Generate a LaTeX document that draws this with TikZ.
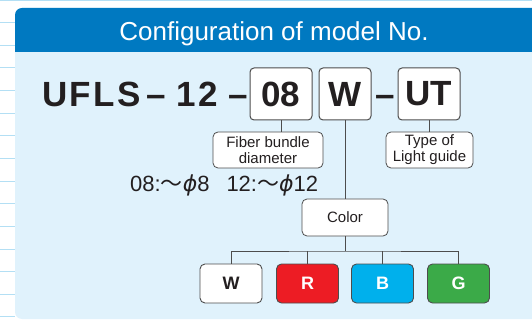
\documentclass[tikz,border=0pt]{standalone}
\usepackage{fontspec}
\setmainfont{Liberation Sans}
\newfontfamily\jpfont{Noto Sans CJK JP}
\newfontfamily\greekfont{DejaVu Sans}
\definecolor{headblue}{HTML}{0079C1}
\definecolor{bodyblue}{HTML}{E0F2FC}
\definecolor{rulecol}{HTML}{B3DFF4}
\definecolor{ink}{HTML}{231F20}
\definecolor{boxgray}{HTML}{4D4D4D}
\definecolor{chipred}{HTML}{ED1C24}
\definecolor{chipblue}{HTML}{00B0EC}
\definecolor{chipgreen}{HTML}{3BAA48}
\newcommand{\wave}{{\jpfont ～}}
\newcommand{\dia}{{\greekfont\itshape ϕ}}
\tikzstyle{rule}=[draw=rulecol,line width=1pt]
\tikzstyle{wire}=[draw=boxgray,line width=0.9pt]
\tikzstyle{big}=[inner sep=0pt,text=ink,font=\fontsize{35}{40}\selectfont\bfseries]
\tikzstyle{spaced}=[font=\fontsize{35}{40}\selectfont\bfseries\addfontfeature{LetterSpace=7}]
\tikzstyle{field}=[draw=boxgray,fill=white,rounded corners=4pt,line width=1pt,minimum width=62pt,minimum height=52pt,inner sep=0pt,text=ink,font=\fontsize{35}{40}\selectfont\bfseries]
\tikzstyle{tag}=[draw=boxgray,fill=white,rounded corners=5pt,line width=0.8pt,minimum height=36pt,inner sep=0pt,align=center,text=ink,font=\fontsize{15}{16}\selectfont]
\tikzstyle{chip}=[draw=boxgray,rounded corners=5pt,line width=0.9pt,minimum width=62pt,minimum height=39pt,inner sep=0pt,text=white,font=\fontsize{18}{20}\selectfont\bfseries]

\begin{document}
\begin{tikzpicture}[x=1pt,y=-1pt]
			\useasboundingbox (0,0) rectangle (532,320);
			% ruled sheet behind the panel
			\draw[rule] (0,1) -- (532,1);
			\foreach \k in {0,...,13}
				\draw[rule] (0,22.5+22.65*\k) -- (15,22.5+22.65*\k);
			\begin{scope}
				\clip (0,0) rectangle (532,320);
				\fill[bodyblue,rounded corners=7pt] (15,8) rectangle (560,319);
				\fill[headblue,rounded corners=7pt] (15,8) rectangle (560,70);
				\fill[bodyblue] (15,52) rectangle (560,80);
			\end{scope}
			\node (title) at (274,41) [anchor=base,text=white,font=\fontsize{26}{30}\selectfont] {Configuration of model No.};
			% model number
			\node (ufls) at (91.4,107) [anchor=base,big,spaced] {UFLS};
			\node (d1) at (156.5,107) [anchor=base,big] {–};
			\node (12) at (197.5,107) [anchor=base,big,spaced] {12};
			\node (d2) at (238.5,107) [anchor=base,big] {–};
			\node (08) at (281,94) [field] {08};
			\node (w) at (345,94) [field,minimum width=52pt] {W};
			\node (d3) at (385,107) [anchor=base,big] {–};
			\node (ut) at (429,94) [field] {UT};
			% explanations
			\node (fb) at (268,150) [tag,minimum width=110pt] {Fiber bundle\\diameter};
			\node (tl) at (429.5,150) [tag,minimum width=87pt] {Type of\\Light guide};
			\node (sz) at (130,192) [anchor=base west,inner sep=0pt,text=ink,font=\fontsize{22}{24}\selectfont] {08:\wave\dia8\hspace{17pt}12:\wave\dia12};
			\node (col) at (345,217.5) [tag,minimum width=86pt,minimum height=37pt] {Color};
			\node (cw) at (231,283.5) [chip,fill=white,text=ink] {W};
			\node (cr) at (307.5,283.5) [chip,fill=chipred] {R};
			\node (cb) at (382.5,283.5) [chip,fill=chipblue] {B};
			\node (cg) at (458.5,283.5) [chip,fill=chipgreen] {G};
			\coordinate (bar) at (345,251);
			\draw[wire] (08.south) -- (08.south |- fb.north);
			\draw[wire] (w.south) -- (col.north);
			\draw[wire] (ut.south) -- (ut.south |- tl.north);
			\draw[wire] (col.south) -- (bar);
			\draw[wire] (cw.north) |- (bar) -| (cg.north);
			\draw[wire] (cr.north) -- (cr.north |- bar);
			\draw[wire] (cb.north) -- (cb.north |- bar);
		\end{tikzpicture}
\end{document}
